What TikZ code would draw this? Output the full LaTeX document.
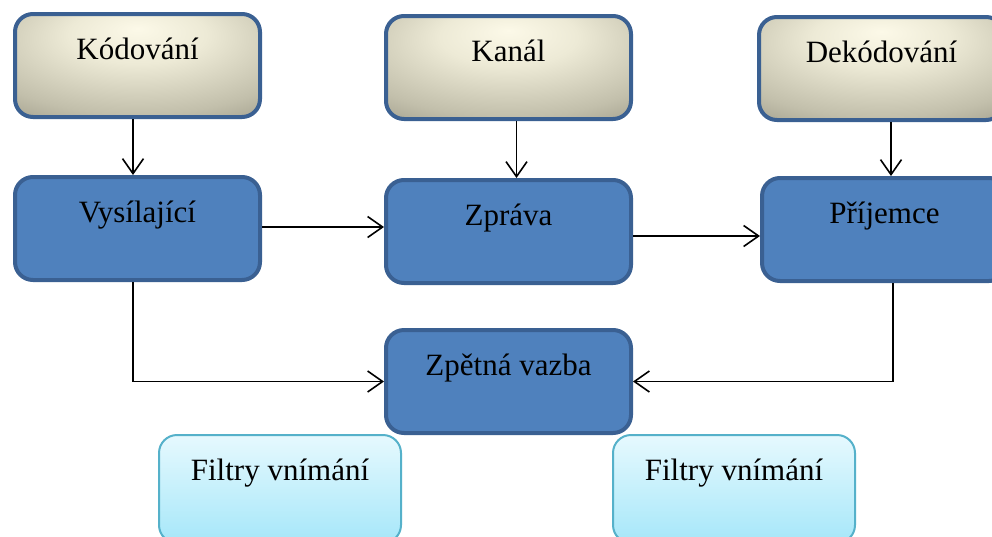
\documentclass[tikz,border=0pt]{standalone}
\usepackage{fontspec}
\setmainfont{Liberation Serif}
\usetikzlibrary{arrows.meta,calc}
\definecolor{boxblue}{HTML}{4F81BD}
\definecolor{boxedge}{HTML}{3A6092}
\definecolor{bcream}{HTML}{FCF9E8}
\definecolor{blight}{HTML}{EDEAD6}
\definecolor{bmid}{HTML}{C2BFAB}
\definecolor{bgrey}{HTML}{8A8776}
\definecolor{ftop}{HTML}{E6F9FE}
\definecolor{fbot}{HTML}{A6E7F9}
\definecolor{fedge}{HTML}{55B1CA}
\pgfdeclareradialshading{beigeshade}{\pgfpoint{0bp}{18bp}}{color(0bp)=(bcream); color(14bp)=(blight); color(34bp)=(bmid); color(52bp)=(bgrey); color(80bp)=(bgrey)}
\tikzset{
  txt/.style={font=\fontsize{31}{36}\selectfont, text=black, inner xsep=0pt, inner ysep=0pt, text height=45pt, text depth=58pt, rounded corners=18pt, anchor=north west},
  topbox/.style={txt, minimum width=245pt, draw=boxedge, line width=4pt, shading=beigeshade},
  bluebox/.style={txt, minimum width=245pt, draw=boxedge, line width=4pt, fill=boxblue},
  filtbox/.style={txt, minimum width=242pt, draw=fedge, line width=2pt, top color=ftop, bottom color=fbot, text depth=63pt},
  arr/.style={line width=1.6pt, -{Straight Barb[length=15pt,width=21pt,line width=1.6pt]}}
}
\begin{document}
\begin{tikzpicture}[x=1pt,y=-1pt]
\clip (0,0) rectangle (992,536);
\fill[white] (0,0) rectangle (992,536);
\node[topbox] (kod) at (13,12) {Kódování};
\node[topbox] (kan) at (384,14) {Kanál};
\node[topbox] (dek) at (757,15) {Dekódování};
\node[bluebox] (vys) at (13,175) {Vysílající};
\node[bluebox] (zpr) at (384,178) {Zpráva};
\node[bluebox] (pri) at (760,176) {Příjemce};
\node[bluebox] (zpv) at (384,328) {Zpětná vazba};
\node[filtbox] (f1) at (158,434) {Filtry vnímání};
\node[filtbox] (f2) at (612,434) {Filtry vnímání};
\draw[arr] ($(kod.south)+(-4.5,0)$) -- ($(vys.north)+(-4.5,0)$);
\draw[arr] ($(kan.south)+(8,0)$) -- ($(zpr.north)+(8,0)$);
\draw[arr] ($(dek.south)+(9.5,0)$) -- ($(pri.north)+(6.5,0)$);
\draw[arr] ($(vys.east)+(0,-1.5)$) -- ($(vys.east -| zpr.west)+(0,-1.5)$);
\draw[arr] ($(zpr.east)+(0,4.5)$) -- ($(zpr.east -| pri.west)+(0,4.5)$);
\draw[arr] ($(vys.south)+(-4.5,0)$) |- (zpv.west);
\draw[arr] ($(pri.south)+(8.5,0)$) |- (zpv.east);
\end{tikzpicture}
\end{document}
